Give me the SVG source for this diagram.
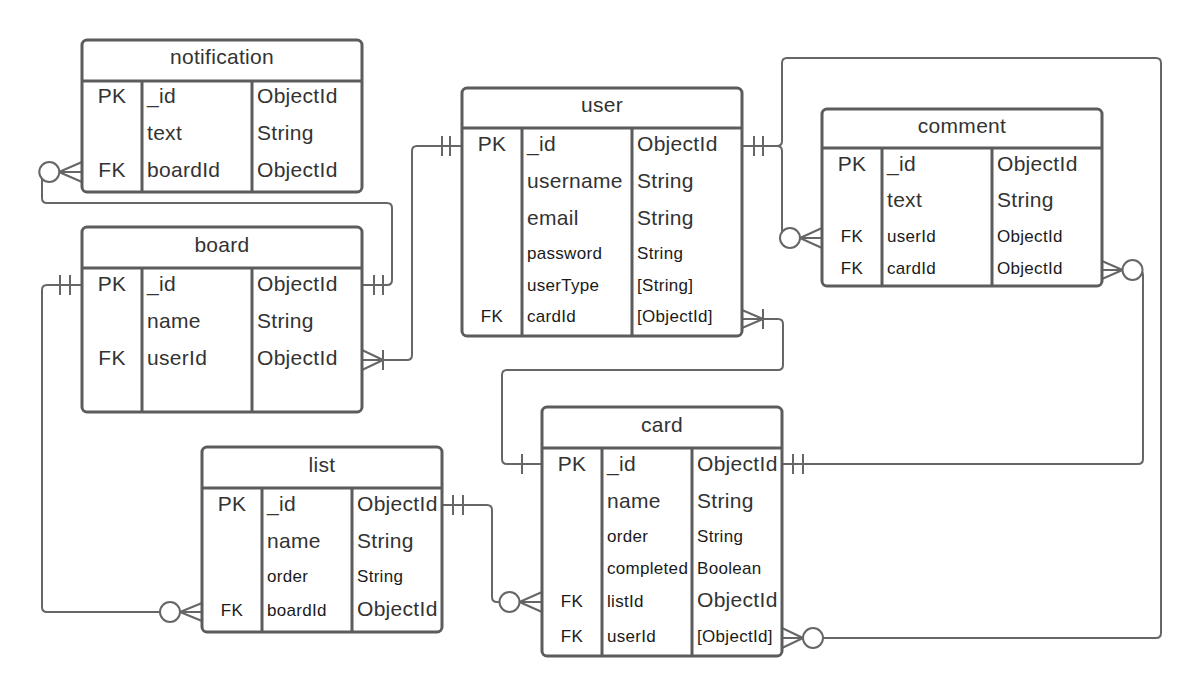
<svg xmlns="http://www.w3.org/2000/svg" width="1202" height="695" viewBox="0 0 1202 695">
<style>
.box{fill:#fff;stroke:#5c5c5c;stroke-width:3}
.ln{stroke:#5c5c5c;stroke-width:3;fill:none}
.c{fill:none;stroke:#666;stroke-width:2}
.ci{fill:#fff;stroke:#666;stroke-width:2}
text{font-family:"Liberation Sans",Arial,sans-serif;fill:#333;letter-spacing:0.3px}
.L{font-size:21px}
.S{font-size:17px;fill:#1a1a1a}
.m{text-anchor:middle}
</style>
<rect width="1202" height="695" fill="#fff"/>
<g id="connectors">
<path class="c" d="M82,172 H47 Q42,172 42,177 V198 Q42,203 47,203 H387 Q392,203 392,208 V280 Q392,285 387,285 H362"/>
<path class="c" d="M59,172 L82,162 M59,172 L82,182 M374,275 V295 M383,275 V295"/>
<circle class="ci" cx="49.3" cy="172" r="10"/>
<path class="c" d="M362,360 H407 Q412,360 412,355 V151 Q412,146 417,146 H462"/>
<path class="c" d="M383,360 L362,350 M383,360 L362,370 M383,350 V370 M442,136 V156 M450,136 V156"/>
<path class="c" d="M742,146 H777 Q782,146 782,151 V233 Q782,238 787,238 H822"/>
<path class="c" d="M742,146 H777 Q782,146 782,141 V63 Q782,58 787,58 H1156 Q1161,58 1161,63 V633 Q1161,638 1156,638 H782"/>
<path class="c" d="M754,136 V156 M763,136 V156 M800,238 L822,228 M800,238 L822,248 M803,638 L782,628 M803,638 L782,648"/>
<circle class="ci" cx="790" cy="238" r="10"/>
<circle class="ci" cx="813" cy="638" r="10"/>
<path class="c" d="M1102,270 H1138 Q1143,270 1143,275 V459 Q1143,464 1138,464 H782"/>
<path class="c" d="M1122.5,270 L1102,261 M1122.5,270 L1102,279 M793,454 V474 M803,454 V474"/>
<circle class="ci" cx="1132.5" cy="270" r="10"/>
<path class="c" d="M742,319 H778 Q783,319 783,324 V365 Q783,370 778,370 H507 Q502,370 502,375 V459 Q502,464 507,464 H542"/>
<path class="c" d="M763,319 L742,310 M763,319 L742,328 M763,309 V329 M522,454 V474"/>
<path class="c" d="M442,505 H487 Q492,505 492,510 V597 Q492,602 497,602 H542"/>
<path class="c" d="M453,495 V515 M463,495 V515 M519.5,602 L542,592 M519.5,602 L542,612"/>
<circle class="ci" cx="509.5" cy="602" r="10"/>
<path class="c" d="M82,285 H47 Q42,285 42,290 V607 Q42,612 47,612 H202"/>
<path class="c" d="M60,275 V295 M70,275 V295 M180,612 L202,603 M180,612 L202,621"/>
<circle class="ci" cx="170" cy="612" r="10"/>
</g>
<g id="notification">
<rect class="box" x="82" y="40" width="280" height="152" rx="5"/>
<path class="ln" d="M82,81 H362 M142,81 V192 M252,81 V192"/>
<text class="L m" x="222" y="64">notification</text>
<text class="L m" x="112" y="103">PK</text><text class="L" x="147" y="103">_id</text><text class="L" x="257" y="103">ObjectId</text>
<text class="L" x="147" y="140">text</text><text class="L" x="257" y="140">String</text>
<text class="L m" x="112" y="177">FK</text><text class="L" x="147" y="177">boardId</text><text class="L" x="257" y="177">ObjectId</text>
</g>
<g id="board">
<rect class="box" x="82" y="227" width="280" height="185" rx="5"/>
<path class="ln" d="M82,268 H362 M142,268 V412 M252,268 V412"/>
<text class="L m" x="222" y="252">board</text>
<text class="L m" x="112" y="291">PK</text><text class="L" x="147" y="291">_id</text><text class="L" x="257" y="291">ObjectId</text>
<text class="L" x="147" y="328">name</text><text class="L" x="257" y="328">String</text>
<text class="L m" x="112" y="365">FK</text><text class="L" x="147" y="365">userId</text><text class="L" x="257" y="365">ObjectId</text>
</g>
<g id="user">
<rect class="box" x="462" y="88" width="280" height="248" rx="5"/>
<path class="ln" d="M462,128 H742 M522,128 V336 M632,128 V336"/>
<text class="L m" x="602" y="112">user</text>
<text class="L m" x="492" y="151">PK</text><text class="L" x="527" y="151">_id</text><text class="L" x="637" y="151">ObjectId</text>
<text class="L" x="527" y="188">username</text><text class="L" x="637" y="188">String</text>
<text class="L" x="527" y="225">email</text><text class="L" x="637" y="225">String</text>
<text class="S" x="527" y="259">password</text><text class="S" x="637" y="259">String</text>
<text class="S" x="527" y="291">userType</text><text class="S" x="637" y="291">[String]</text>
<text class="S m" x="492" y="322">FK</text><text class="S" x="527" y="322">cardId</text><text class="S" x="637" y="322">[ObjectId]</text>
</g>
<g id="comment">
<rect class="box" x="822" y="109" width="280" height="177" rx="5"/>
<path class="ln" d="M822,148 H1102 M882,148 V286 M992,148 V286"/>
<text class="L m" x="962" y="133">comment</text>
<text class="L m" x="852" y="171">PK</text><text class="L" x="887" y="171">_id</text><text class="L" x="997" y="171">ObjectId</text>
<text class="L" x="887" y="207">text</text><text class="L" x="997" y="207">String</text>
<text class="S m" x="852" y="242">FK</text><text class="S" x="887" y="242">userId</text><text class="S" x="997" y="242">ObjectId</text>
<text class="S m" x="852" y="274">FK</text><text class="S" x="887" y="274">cardId</text><text class="S" x="997" y="274">ObjectId</text>
</g>
<g id="list">
<rect class="box" x="202" y="447" width="240" height="185" rx="5"/>
<path class="ln" d="M202,488 H442 M262,488 V632 M352,488 V632"/>
<text class="L m" x="322" y="472">list</text>
<text class="L m" x="232" y="511">PK</text><text class="L" x="267" y="511">_id</text><text class="L" x="357" y="511">ObjectId</text>
<text class="L" x="267" y="548">name</text><text class="L" x="357" y="548">String</text>
<text class="S" x="267" y="582">order</text><text class="S" x="357" y="582">String</text>
<text class="S m" x="232" y="616">FK</text><text class="S" x="267" y="616">boardId</text><text class="L" x="357" y="616">ObjectId</text>
</g>
<g id="card">
<rect class="box" x="542" y="407" width="240" height="249" rx="5"/>
<path class="ln" d="M542,448 H782 M602,448 V656 M692,448 V656"/>
<text class="L m" x="662" y="432">card</text>
<text class="L m" x="572" y="471">PK</text><text class="L" x="607" y="471">_id</text><text class="L" x="697" y="471">ObjectId</text>
<text class="L" x="607" y="508">name</text><text class="L" x="697" y="508">String</text>
<text class="S" x="607" y="542">order</text><text class="S" x="697" y="542">String</text>
<text class="S" x="607" y="574">completed</text><text class="S" x="697" y="574">Boolean</text>
<text class="S m" x="572" y="607">FK</text><text class="S" x="607" y="607">listId</text><text class="L" x="697" y="607">ObjectId</text>
<text class="S m" x="572" y="642">FK</text><text class="S" x="607" y="642">userId</text><text class="S" x="697" y="642">[ObjectId]</text>
</g>
</svg>
